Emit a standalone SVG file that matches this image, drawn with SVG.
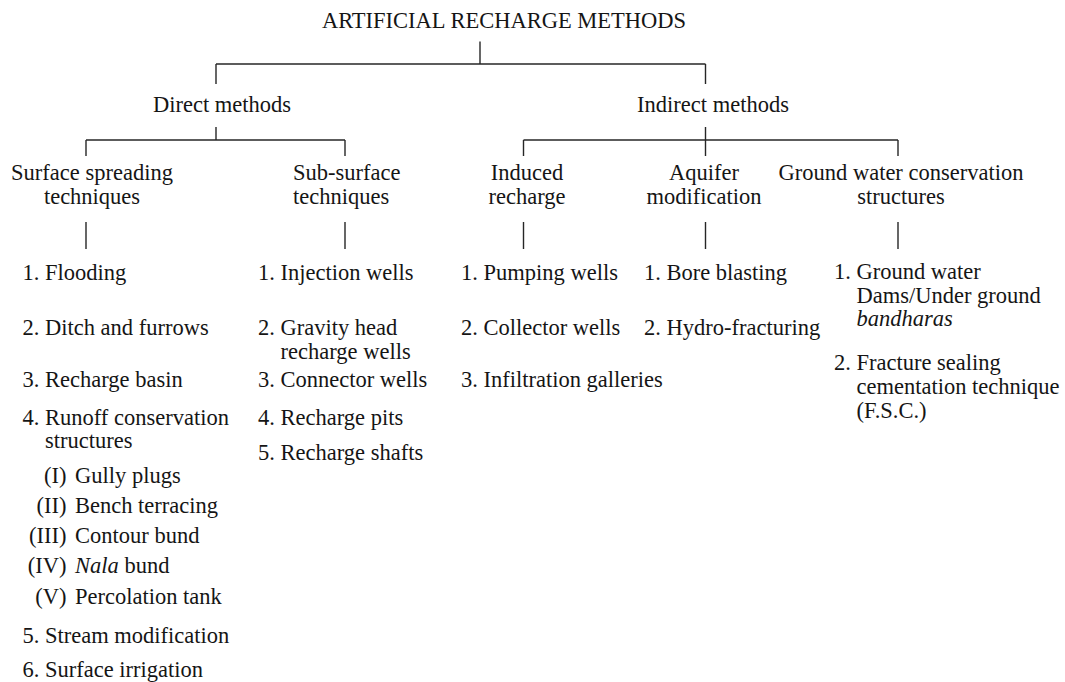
<svg xmlns="http://www.w3.org/2000/svg" width="1065" height="682" viewBox="0 0 1065 682">
<style>
text{font-family:"Liberation Serif","Times New Roman",serif;font-size:22.5px;fill:#151515}
.m{text-anchor:middle}
.e{text-anchor:end}
.i{font-style:italic}
#connectors line{stroke:#262626;stroke-width:1.4;fill:none}
</style>
<rect width="1065" height="682" fill="#ffffff"/>
<g id="connectors">
<line x1="480" y1="41.5" x2="480" y2="64"/>
<line x1="216" y1="64" x2="705.5" y2="64"/>
<line x1="216" y1="64" x2="216" y2="84"/>
<line x1="705.5" y1="64" x2="705.5" y2="84"/>
<line x1="216" y1="127" x2="216" y2="140"/>
<line x1="86" y1="140" x2="345" y2="140"/>
<line x1="86" y1="140" x2="86" y2="156"/>
<line x1="345" y1="140" x2="345" y2="156"/>
<line x1="705.5" y1="127" x2="705.5" y2="156"/>
<line x1="523.5" y1="140" x2="898" y2="140"/>
<line x1="523.5" y1="140" x2="523.5" y2="156"/>
<line x1="898" y1="140" x2="898" y2="156"/>
<line x1="86" y1="222" x2="86" y2="249"/>
<line x1="345" y1="222" x2="345" y2="249"/>
<line x1="523.5" y1="222" x2="523.5" y2="249"/>
<line x1="705.5" y1="222" x2="705.5" y2="249"/>
<line x1="898" y1="222" x2="898" y2="249"/>
</g>
<g id="title"><text class="m" x="504" y="27.5">ARTIFICIAL RECHARGE METHODS</text></g>
<g id="direct"><text class="m" x="222" y="112">Direct methods</text></g>
<g id="indirect"><text class="m" x="713" y="112">Indirect methods</text></g>
<g id="surface-spreading"><text class="m" x="92" y="180">Surface spreading</text><text class="m" x="92" y="204">techniques</text></g>
<g id="sub-surface"><text x="293" y="180">Sub-surface</text><text x="293" y="204">techniques</text></g>
<g id="induced-recharge"><text class="m" x="527" y="180">Induced</text><text class="m" x="527" y="204">recharge</text></g>
<g id="aquifer-modification"><text class="m" x="704" y="180">Aquifer</text><text class="m" x="704" y="204">modification</text></g>
<g id="gw-conservation"><text class="m" x="901" y="180">Ground water conservation</text><text class="m" x="901" y="204">structures</text></g>
<g id="surface-list">
<text x="22.5" y="279.5">1. Flooding</text>
<text x="22.5" y="335">2. Ditch and furrows</text>
<text x="22.5" y="387">3. Recharge basin</text>
<text x="22.5" y="424.5">4. Runoff conservation</text>
<text x="45" y="448">structures</text>
<text class="e" x="66.5" y="483.3">(I)</text><text x="75" y="483.3">Gully plugs</text>
<text class="e" x="66.5" y="513.3">(II)</text><text x="75" y="513.3">Bench terracing</text>
<text class="e" x="66.5" y="543.3">(III)</text><text x="75" y="543.3">Contour bund</text>
<text class="e" x="66.5" y="573.3">(IV)</text><text x="75" y="573.3"><tspan class="i">Nala</tspan> bund</text>
<text class="e" x="66.5" y="604">(V)</text><text x="75" y="604">Percolation tank</text>
<text x="22.5" y="643.3">5. Stream modification</text>
<text x="22.5" y="676.5">6. Surface irrigation</text>
</g>
<g id="sub-surface-list">
<text x="258" y="279.5">1. Injection wells</text>
<text x="258" y="335">2. Gravity head</text>
<text x="280.5" y="358.5">recharge wells</text>
<text x="258" y="387">3. Connector wells</text>
<text x="258" y="424.5">4. Recharge pits</text>
<text x="258" y="460">5. Recharge shafts</text>
</g>
<g id="induced-list">
<text x="461" y="279.5">1. Pumping wells</text>
<text x="461" y="335">2. Collector wells</text>
<text x="461" y="387">3. Infiltration galleries</text>
</g>
<g id="aquifer-list">
<text x="644" y="279.5">1. Bore blasting</text>
<text x="644" y="335">2. Hydro-fracturing</text>
</g>
<g id="gw-list">
<text x="834" y="279">1. Ground water</text>
<text x="856.5" y="302.5">Dams/Under ground</text>
<text class="i" x="856.5" y="326">bandharas</text>
<text x="834" y="369.5">2. Fracture sealing</text>
<text x="856.5" y="393.5">cementation technique</text>
<text x="856.5" y="417.5">(F.S.C.)</text>
</g>
</svg>
